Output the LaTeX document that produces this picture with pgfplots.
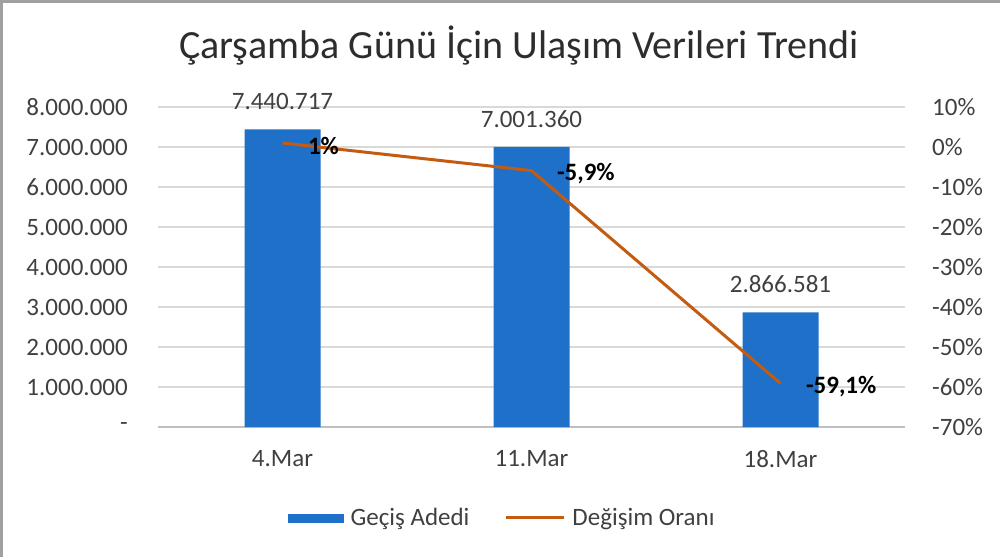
\documentclass[border=0pt]{standalone}
\usepackage{fontspec}
\setmainfont{Carlito}
\usepackage{pgfplots}
\pgfplotsset{compat=1.18}

\definecolor{barblue}{RGB}{31,112,200}
\definecolor{lineorange}{RGB}{197,90,17}
\definecolor{txtgray}{RGB}{64,64,64}
\definecolor{titlegray}{RGB}{45,45,45}
\definecolor{gridgray}{RGB}{217,217,217}
\definecolor{axisgray}{RGB}{191,191,191}
\definecolor{framegray}{RGB}{160,160,160}

\newcommand{\lblfont}{\fontsize{25}{30}\selectfont}

\begin{document}
\begin{tikzpicture}
\useasboundingbox (0pt,0pt) rectangle (1000pt,-557pt);
% frame edges (left and top only)
\draw[framegray, line width=2.5pt] (1.25pt,-557pt) -- (1.25pt,-1.25pt) -- (1000pt,-1.25pt);

% title
\node[anchor=base, inner sep=0pt, text=titlegray, font=\fontsize{40}{48}\selectfont]
  at (519pt,-58pt) {Çarşamba Günü İçin Ulaşım Verileri Trendi};

% left axis: bars
\begin{axis}[
    at={(158pt,-427pt)}, anchor=south west,
    scale only axis, width=747pt, height=320pt,
    xmin=-0.5, xmax=2.5,
    ymin=0, ymax=8000000,
    scaled y ticks=false,
    axis x line*=bottom, axis y line*=left,
    x axis line style={draw=axisgray, line width=1.2pt},
    y axis line style={draw=none},
    xtick={0,1,2}, xticklabels={4.Mar,11.Mar,18.Mar},
    xtick style={draw=none},
    extra x ticks={-0.5,0.5,1.5,2.5}, extra x tick labels={},
    extra x tick style={tick style={draw=axisgray, line width=1.2pt}, major tick length=7pt, tick align=outside, grid=none},
    ytick={0,1000000,2000000,3000000,4000000,5000000,6000000,7000000,8000000},
    yticklabels={-\hspace{13pt},1.000.000,2.000.000,3.000.000,4.000.000,5.000.000,6.000.000,7.000.000,8.000.000},
    ytick style={draw=none},
    ymajorgrids, grid style={draw=gridgray, line width=1.2pt},
    tick label style={font=\lblfont, text=txtgray, inner sep=0pt},
    yticklabel style={anchor=east}, yticklabel shift=30pt,
    xticklabel style={anchor=north}, xticklabel shift=23pt,
]
\addplot[ybar, bar width=76pt, fill=barblue, draw=none,
    nodes near coords, point meta=explicit symbolic,
    nodes near coords style={anchor=south, inner sep=0pt, yshift=19pt, font=\lblfont, text=txtgray}]
  coordinates {(0,7440717) [7.440.717] (1,7001360) [7.001.360] (2,2866581) [2.866.581]};
\end{axis}

% right axis: change rate
\begin{axis}[
    at={(158pt,-427pt)}, anchor=south west,
    scale only axis, width=747pt, height=320pt,
    xmin=-0.5, xmax=2.5,
    ymin=-70, ymax=10,
    axis x line=none, axis y line*=right,
    y axis line style={draw=none}, ytick style={draw=none},
    ytick={-70,-60,-50,-40,-30,-20,-10,0,10},
    yticklabels={-70\%,-60\%,-50\%,-40\%,-30\%,-20\%,-10\%,0\%,10\%},
    tick label style={font=\lblfont, text=txtgray, inner sep=0pt},
    yticklabel style={anchor=west}, yticklabel shift=27pt,
    legend columns=2,
    legend style={at={(0.174,-0.284)}, anchor=west, draw=none, fill=none,
        inner sep=0pt, font=\lblfont, text=txtgray,
        nodes={inner sep=0pt},
        /tikz/every odd column/.append style={column sep=7pt},
        /tikz/every even column/.append style={column sep=35pt}},
]
\addlegendimage{legend image code/.code={\fill[barblue] (0pt,-4pt) rectangle (55pt,4pt);}}
\addlegendentry{Geçiş Adedi}
\addplot[lineorange, line width=3pt,
    legend image code/.code={\draw[lineorange, line width=3pt] (0pt,0pt) -- (58pt,0pt);},
    nodes near coords, point meta=explicit symbolic,
    nodes near coords style={anchor=west, inner sep=0pt, xshift=24pt, yshift=-3pt, font=\lblfont\bfseries, text=black}]
  coordinates {(0,1) [1\%] (1,-5.9) [-5,9\%] (2,-59.1) [-59,1\%]};
\addlegendentry{Değişim Oranı}
\end{axis}
\end{tikzpicture}
\end{document}
